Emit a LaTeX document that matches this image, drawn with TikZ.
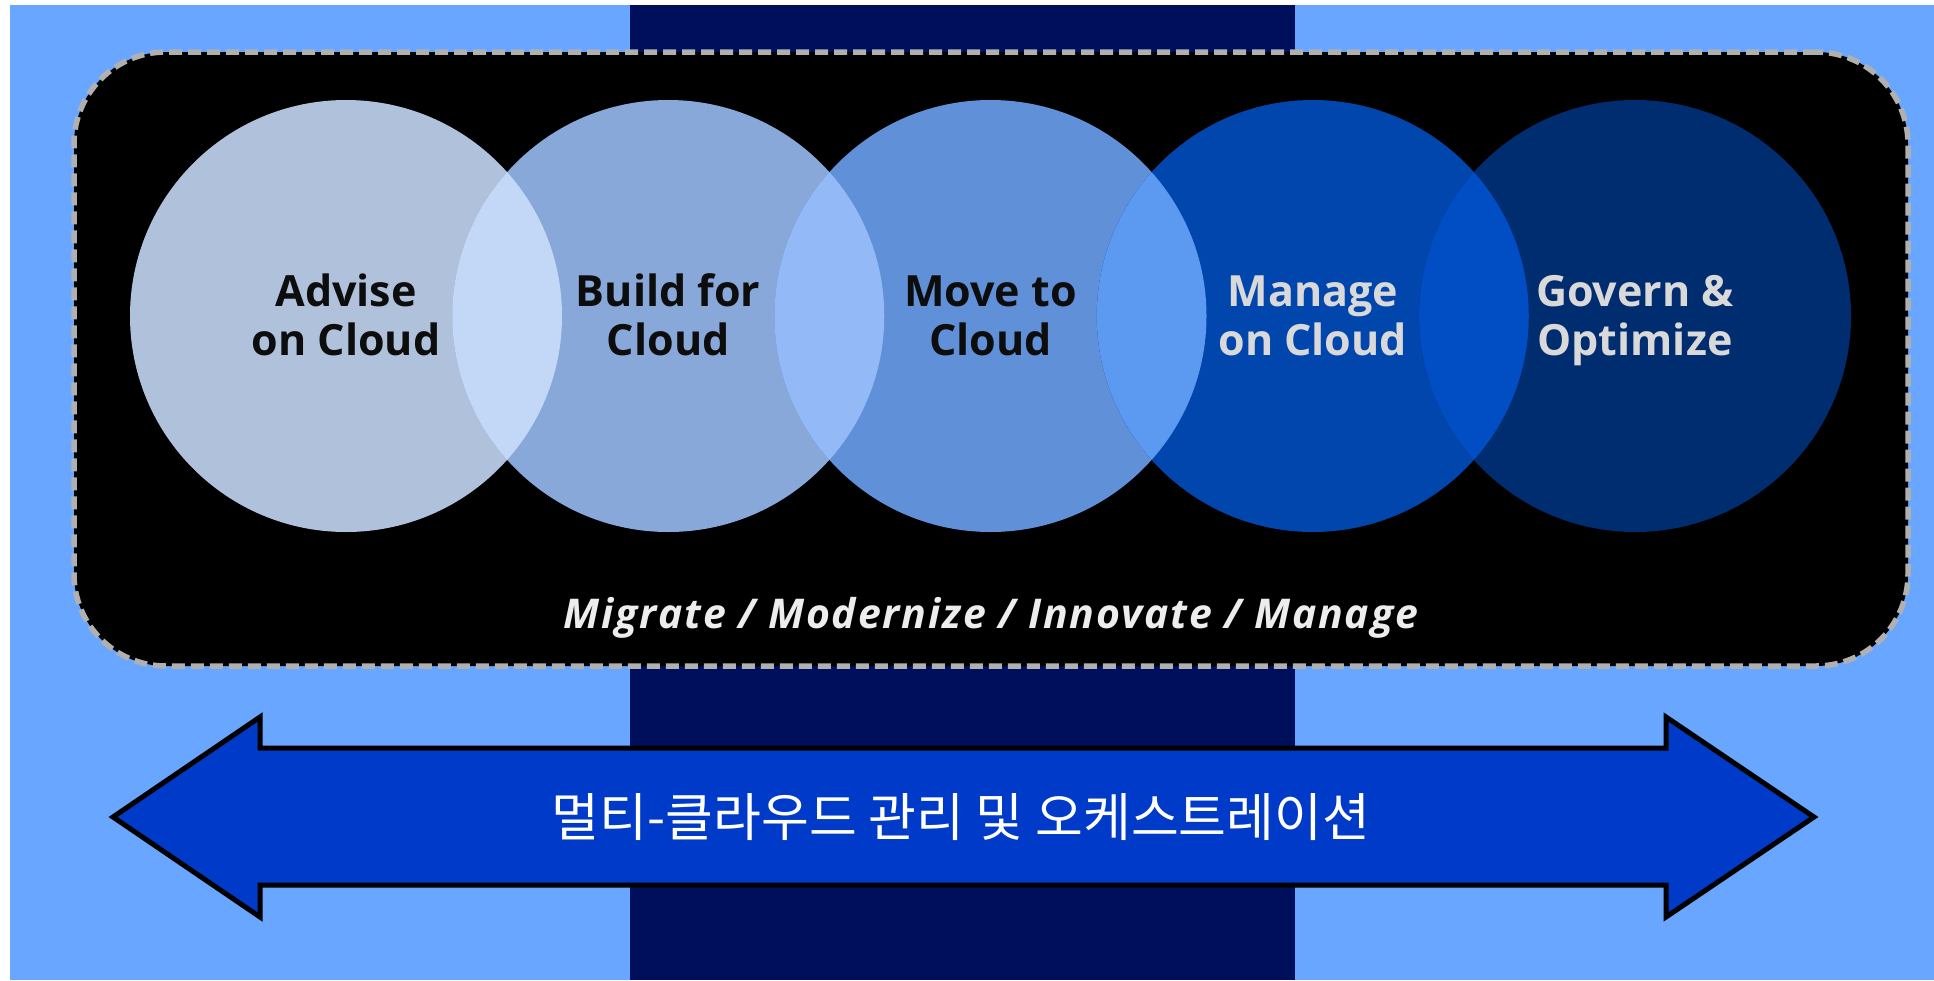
\documentclass[tikz,border=0pt]{standalone}
\usepackage{fontspec}
\setmainfont{Open Sans}
\newfontfamily\kofont{Noto Sans CJK KR}
\newfontfamily\mottofont[LetterSpace=4.5]{Open Sans}
\usetikzlibrary{positioning}
\definecolor{skyblue}{HTML}{69A6FF}
\definecolor{navyband}{HTML}{000F5C}
\definecolor{stageA}{HTML}{B0C1DB}
\definecolor{stageB}{HTML}{88A8DA}
\definecolor{stageC}{HTML}{6090D8}
\definecolor{stageD}{HTML}{0046AD}
\definecolor{stageE}{HTML}{002D70}
\definecolor{lensAB}{HTML}{C3D8F7}
\definecolor{lensBC}{HTML}{93BAF7}
\definecolor{lensCD}{HTML}{5C99F0}
\definecolor{lensDE}{HTML}{004DC4}
\definecolor{arrowblue}{HTML}{003AC8}
\definecolor{dashgray}{HTML}{B0B0B0}
\tikzset{x=1pt, y=-1pt,
    node distance=322.25pt,
    stage/.style={
        circle,
        minimum size=432pt,
        inner sep=0pt,
        align=center,
        text height=91pt,
        text depth=12pt,
        font=\bfseries\fontsize{43}{49}\selectfont},
    darklabel/.style={text=black!95},
    lightlabel/.style={text=black!15},
    panel/.style={
        fill=black,
        draw=dashgray,
        line width=5.5pt,
        dash pattern=on 13pt off 6pt,
        rounded corners=92pt},
    tagline/.style={
        text=black!7,
        font=\mottofont\bfseries\itshape\fontsize{41}{45}\selectfont},
    bigarrow/.style={
        fill=arrowblue,
        draw=black,
        line width=5pt,
        line join=miter}}

\begin{document}
\begin{tikzpicture}
        \useasboundingbox (0,0) rectangle (1934,980);
        \fill[skyblue] (10,5) rectangle (1934,980);
        \fill[navyband] (630,5) rectangle (1295,980);

        \node[panel,minimum width=1834pt,minimum height=614pt] (panel) at (991,359) {};

        \node[stage,darklabel,fill=stageA] (advise) at (346,316) {Advise\\on Cloud};
        \node[stage,darklabel,fill=stageB,right of=advise] (build) {Build for\\Cloud};
        \node[stage,darklabel,fill=stageC,right of=build] (move) {Move to\\Cloud};
        \node[stage,lightlabel,fill=stageD,right of=move] (manage) {Manage\\on Cloud};
        \node[stage,lightlabel,fill=stageE,right of=manage] (govern) {Govern \&\\Optimize};

        \begin{scope}
            \clip (advise.center) circle (216pt);
            \fill[lensAB] (build.center) circle (216pt);
        \end{scope}
        \begin{scope}
            \clip (build.center) circle (216pt);
            \fill[lensBC] (move.center) circle (216pt);
        \end{scope}
        \begin{scope}
            \clip (move.center) circle (216pt);
            \fill[lensCD] (manage.center) circle (216pt);
        \end{scope}
        \begin{scope}
            \clip (manage.center) circle (216pt);
            \fill[lensDE] (govern.center) circle (216pt);
        \end{scope}

        \node[tagline,anchor=base] (motto) at (991,628) {Migrate / Modernize / Innovate / Manage};

        \draw[bigarrow] (113,817) -- (260,717) -- (260,748) -- (1666,748) -- (1666,717)
            -- (1814,817) -- (1666,917) -- (1666,885) -- (260,885) -- (260,917) -- cycle;
        \node[text=white,font=\kofont\fontsize{52}{60}\selectfont] (orch) at (961,817) {멀티-클라우드 관리 및 오케스트레이션};
    \end{tikzpicture}
\end{document}
